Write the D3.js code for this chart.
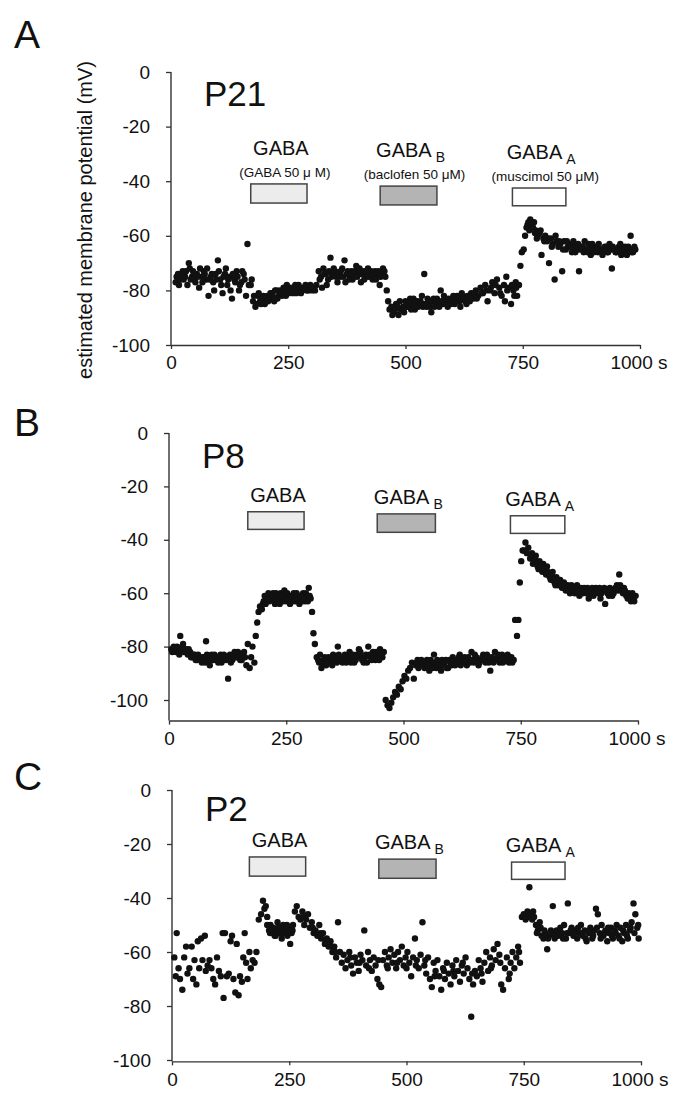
<!DOCTYPE html>
<html>
<head>
<meta charset="utf-8">
<script src="https://cdn.jsdelivr.net/npm/d3@7"></script>
<style>
  body { margin: 0; background: #fff; }
  svg text { font-family: "Liberation Sans", Arial, Helvetica, sans-serif; fill: #111; }
</style>
</head>
<body>
<div id="plot"></div>
<script>
// [time (s), estimated membrane potential (mV)]

const p21Data = [
  [10,-77],[15,-74],[20,-76],[25,-73],[30,-75],[35,-78],[38,-70],[40,-72],[45,-75],[50,-76],[55,-74],
  [60,-79],[65,-75],[70,-73],[75,-76],[80,-82],[85,-75],[90,-77],[95,-74],[100,-69],[105,-76],
  [110,-81],[115,-74],[120,-78],[125,-75],[130,-83],[135,-76],[140,-73],[145,-80],[150,-77],[155,-74],
  [160,-82],[163,-63],[166,-78],[170,-78],[172,-76],[175,-84],[180,-86],[185,-82],[190,-84],[195,-83],
  [200,-85],[205,-82],[210,-83],[215,-81],[220,-84],[225,-80],[230,-82],[235,-81],[240,-79],[245,-82],
  [250,-80],[255,-79],[260,-81],[265,-78],[270,-80],[275,-79],[280,-80],[285,-79],[290,-80],[295,-79],
  [300,-80],[305,-79],[310,-78],[315,-73],[320,-75],[322,-79],[325,-72],[330,-74],[332,-78],[335,-76],
  [340,-68],[345,-74],[350,-73],[355,-77],[360,-75],[365,-72],[370,-69],[375,-74],[380,-76],[385,-73],
  [390,-75],[395,-71],[400,-74],[405,-77],[410,-73],[415,-75],[420,-72],[425,-74],[430,-76],[435,-73],
  [440,-75],[445,-78],[450,-74],[455,-73],[460,-80],[463,-84],[466,-87],[470,-86],[475,-88],[480,-85],
  [485,-89],[490,-87],[495,-86],[500,-84],[505,-86],[510,-83],[515,-85],[520,-87],[525,-84],[530,-85],
  [535,-82],[540,-74],[545,-86],[550,-84],[555,-88],[560,-83],[565,-85],[570,-84],[575,-80],[580,-85],
  [585,-83],[590,-86],[595,-84],[600,-83],[605,-85],[610,-82],[615,-84],[620,-81],[625,-83],[630,-85],
  [635,-82],[640,-81],[645,-83],[650,-80],[655,-82],[660,-79],[665,-81],[670,-78],[675,-84],[680,-80],
  [685,-77],[690,-81],[695,-76],[700,-79],[705,-82],[710,-78],[712,-84],[715,-75],[720,-79],[725,-85],
  [730,-80],[735,-77],[738,-82],[742,-78],[745,-71],[748,-66],[752,-65],[755,-60],[758,-57],[762,-55],
  [766,-54],[770,-56],[774,-55],[778,-58],[782,-60],[786,-59],[790,-67],[794,-61],[798,-60],[802,-62],
  [806,-70],[810,-61],[814,-63],[818,-76],[822,-62],[826,-64],[830,-63],[834,-73],[838,-62],[842,-65],
  [846,-64],[850,-63],[855,-66],[860,-64],[865,-65],[870,-73],[875,-64],[880,-66],[885,-65],[890,-63],
  [895,-67],[900,-65],[905,-64],[910,-66],[915,-65],[920,-67],[925,-64],[930,-66],[935,-63],[940,-72],
  [945,-65],[950,-66],[955,-64],[960,-67],[965,-65],[970,-66],[975,-64],[980,-60],[985,-66],[990,-65],
  [12,-75],[17,-78],[22,-74],[27,-76],[32,-73],[42,-76],[47,-73],[52,-77],[57,-75],[62,-72],
  [67,-77],[72,-74],[77,-72],[82,-76],[87,-74],[92,-80],[97,-76],[102,-73],[107,-78],[112,-75],
  [117,-72],[122,-76],[127,-80],[132,-74],[137,-77],[142,-75],[147,-78],[152,-73],[157,-76],
  [177,-82],[182,-85],[187,-81],[192,-85],[197,-82],[202,-83],[207,-84],[212,-81],[217,-82],[222,-80],
  [227,-83],[232,-80],[237,-82],[242,-80],[247,-78],[252,-81],[257,-80],[262,-79],[267,-81],[272,-78],
  [277,-81],[282,-79],[287,-78],[292,-80],[297,-78],[302,-79],[307,-80],
  [317,-76],[327,-74],[337,-73],[342,-75],[347,-72],[352,-75],[357,-74],[362,-73],[367,-75],[372,-77],
  [377,-73],[382,-74],[387,-76],[392,-73],[397,-75],[402,-72],[407,-74],[412,-76],[417,-73],[422,-75],
  [427,-73],[432,-74],[437,-76],[442,-73],[447,-75],[452,-72],[457,-75],
  [472,-89],[478,-87],[483,-86],[488,-84],[497,-88],[502,-86],[507,-85],[512,-87],[517,-83],[522,-85],
  [527,-86],[532,-84],[537,-86],[542,-85],[547,-83],[552,-86],[557,-84],[562,-86],[567,-83],[572,-86],
  [577,-84],[582,-82],[587,-85],[592,-83],[597,-85],[602,-82],[607,-84],[612,-83],[617,-86],[622,-82],
  [627,-84],[632,-82],[637,-84],[642,-82],[647,-81],[652,-83],[662,-81],[672,-80],[682,-79],[692,-78],
  [702,-81],[717,-80],[727,-78],[732,-82],[736,-79],[760,-56],[764,-58],[768,-55],[772,-57],[776,-59],
  [780,-61],[788,-58],[796,-62],[804,-61],[812,-64],[820,-60],[828,-62],[836,-65],[844,-62],[852,-64],
  [858,-62],[862,-66],[868,-63],[872,-65],[878,-64],[882,-62],[888,-66],[892,-65],[898,-63],[902,-66],
  [908,-65],[912,-63],[918,-65],[922,-66],[928,-64],[932,-66],[938,-65],[942,-64],[948,-66],[952,-65],
  [958,-63],[962,-66],[968,-64],[972,-67],[978,-65],[982,-66],[988,-64]
];

const p8Data = [
  [5,-81],[10,-80],[15,-82],[20,-81],[24,-76],[28,-80],[32,-82],[36,-81],[40,-83],[45,-82],
  [50,-84],[55,-83],[60,-85],[65,-84],[70,-86],[75,-84],[79,-78],[83,-85],[87,-87],[91,-83],
  [95,-85],[100,-84],[105,-86],[110,-83],[115,-85],[120,-84],[126,-92],[130,-83],[135,-85],[140,-82],
  [145,-84],[150,-83],[155,-85],[160,-82],[165,-87],[168,-79],[172,-88],[175,-84],[178,-80],[182,-86],
  [185,-76],[188,-71],[191,-67],[194,-65],[198,-66],[202,-63],[206,-64],[210,-61],[214,-63],[218,-62],
  [222,-60],[226,-64],[230,-61],[234,-63],[238,-60],[242,-62],[246,-59],[250,-63],[254,-61],[258,-64],
  [262,-62],[266,-60],[270,-63],[274,-61],[278,-64],[282,-62],[286,-60],[290,-63],[294,-61],[298,-58],
  [302,-62],[305,-67],[308,-75],[311,-79],[315,-84],[320,-86],[325,-88],[330,-85],[335,-87],[340,-84],
  [345,-86],[350,-83],[355,-85],[360,-80],[365,-84],[370,-86],[375,-83],[380,-85],[385,-82],[390,-84],
  [395,-86],[400,-83],[405,-81],[410,-84],[415,-86],[420,-83],[425,-80],[430,-84],[435,-82],[440,-85],
  [445,-83],[450,-81],[455,-84],[462,-100],[466,-102],[470,-103],[474,-101],[478,-99],[482,-97],[486,-98],
  [490,-95],[494,-96],[498,-93],[502,-91],[506,-92],[510,-89],[514,-88],[518,-86],[522,-92],[526,-87],
  [530,-85],[535,-87],[540,-86],[545,-88],[550,-85],[555,-89],[560,-87],[565,-83],[570,-88],[575,-86],
  [580,-89],[585,-87],[590,-85],[595,-88],[600,-86],[605,-84],[610,-87],[615,-85],[620,-83],[625,-86],
  [630,-84],[635,-87],[640,-85],[645,-82],[650,-86],[655,-84],[660,-87],[665,-85],[670,-83],[675,-86],
  [680,-84],[685,-89],[690,-85],[695,-82],[700,-84],[705,-86],[710,-83],[715,-85],[720,-84],[725,-86],
  [730,-84],[735,-85],[738,-70],[742,-76],[745,-70],[748,-56],[751,-48],[754,-44],[757,-44],[760,-41],
  [763,-45],[766,-43],[770,-47],[774,-45],[778,-48],[782,-46],[786,-50],[790,-48],[794,-51],[798,-49],
  [802,-52],[806,-50],[810,-53],[814,-55],[818,-52],[822,-56],[826,-54],[830,-57],[834,-55],[838,-58],
  [842,-56],[846,-59],[850,-57],[855,-60],[860,-58],[865,-60],[870,-57],[875,-61],[880,-59],[885,-58],
  [890,-60],[895,-62],[900,-59],[905,-61],[910,-58],[915,-60],[920,-62],[925,-59],[930,-64],[935,-60],
  [940,-58],[945,-61],[950,-59],[955,-57],[960,-53],[965,-59],[970,-58],[975,-61],[980,-60],[985,-63],
  [990,-62],[995,-61],
  [7,-82],[12,-81],[17,-80],[22,-83],[26,-81],[30,-79],[34,-81],[38,-82],[42,-81],[47,-84],
  [52,-83],[57,-85],[62,-83],[67,-85],[72,-84],[77,-86],[81,-83],[85,-84],[89,-85],[93,-84],
  [97,-83],[102,-85],[107,-84],[112,-86],[117,-83],[122,-85],[128,-84],[132,-86],[137,-83],[142,-84],
  [147,-82],[152,-85],[157,-83],[162,-84],
  [200,-64],[204,-61],[208,-63],[212,-60],[216,-62],[220,-61],[224,-63],[228,-60],[232,-62],[236,-64],
  [240,-61],[244,-63],[248,-61],[252,-60],[256,-62],[260,-61],[264,-63],[268,-62],[272,-60],[276,-62],
  [280,-61],[284,-63],[288,-62],[292,-60],[296,-63],[300,-61],
  [318,-85],[322,-83],[328,-86],[332,-84],[338,-86],[342,-85],[348,-87],[352,-84],[358,-86],[362,-83],
  [368,-85],[372,-84],[378,-86],[382,-84],[388,-86],[392,-83],[398,-85],[402,-84],[408,-82],[412,-85],
  [418,-84],[422,-86],[428,-83],[432,-85],[438,-84],[442,-82],[448,-85],[452,-83],[458,-82],
  [528,-86],[532,-88],[538,-85],[542,-87],[548,-86],[552,-87],[558,-85],[562,-88],[568,-86],[572,-85],
  [578,-87],[582,-85],[588,-86],[592,-88],[598,-85],[602,-87],[608,-85],[612,-86],[618,-84],[622,-87],
  [628,-85],[632,-86],[638,-84],[642,-86],[648,-85],[652,-83],[658,-85],[662,-86],[668,-84],[672,-85],
  [678,-83],[682,-86],[688,-84],[692,-86],[698,-85],[702,-83],[708,-85],[712,-86],[718,-84],[722,-83],
  [728,-85],[732,-86],
  [772,-46],[776,-49],[780,-47],[784,-49],[788,-51],[792,-50],[796,-52],[800,-51],[804,-53],[808,-52],
  [812,-54],[816,-53],[820,-55],[824,-57],[828,-56],[832,-55],[836,-57],[840,-58],[844,-57],[848,-58],
  [852,-59],[858,-57],[862,-59],[868,-58],[872,-60],[878,-58],[882,-60],[888,-59],[892,-58],[898,-60],
  [902,-58],[908,-60],[912,-59],[918,-58],[922,-60],[928,-58],[932,-59],[938,-61],[942,-59],[948,-60],
  [952,-58],[958,-59],[962,-57],[968,-60],[972,-59],[978,-62],[982,-61],[988,-60],[992,-63]
];

const p2Data = [
  [5,-62],[8,-69],[10,-53],[14,-66],[17,-70],[22,-74],[26,-62],[30,-58],[33,-68],[37,-66],
  [42,-58],[45,-70],[48,-63],[52,-72],[55,-56],[58,-66],[62,-55],[65,-63],[70,-54],[72,-67],
  [76,-65],[80,-63],[84,-66],[88,-70],[92,-72],[96,-62],[100,-67],[104,-69],[108,-53],[110,-77],
  [113,-53],[117,-69],[121,-68],[125,-56],[128,-54],[131,-70],[135,-75],[138,-57],[142,-76],[145,-69],
  [149,-71],[152,-62],[155,-53],[158,-64],[161,-70],[165,-60],[168,-66],[172,-63],[176,-64],[180,-60],
  [185,-48],[190,-46],[194,-41],[197,-44],[200,-43],[203,-47],[207,-52],[210,-50],[213,-53],[216,-51],
  [219,-54],[222,-52],[225,-49],[228,-53],[231,-51],[234,-55],[237,-50],[240,-53],[243,-52],[246,-54],
  [249,-51],[252,-57],[255,-53],[258,-50],[262,-45],[266,-43],[270,-47],[274,-48],[278,-45],[282,-50],
  [286,-48],[290,-46],[294,-51],[298,-49],[302,-53],[306,-52],[310,-54],[314,-50],[318,-55],[322,-53],
  [326,-57],[330,-55],[334,-58],[338,-56],[342,-60],[346,-58],[350,-62],[354,-49],[358,-60],[362,-64],
  [366,-61],[370,-66],[374,-63],[378,-60],[382,-65],[386,-68],[390,-62],[394,-64],[398,-67],[402,-61],
  [406,-63],[410,-52],[414,-65],[418,-60],[422,-63],[426,-67],[430,-62],[434,-65],[438,-70],[442,-72],
  [446,-73],[450,-63],[454,-60],[458,-65],[462,-62],[466,-59],[470,-64],[474,-61],[478,-66],[482,-60],
  [486,-63],[490,-58],[494,-65],[498,-62],[502,-60],[506,-64],[510,-69],[514,-62],[518,-55],[522,-63],
  [526,-66],[530,-61],[534,-49],[538,-65],[542,-68],[546,-62],[550,-70],[554,-73],[558,-64],[562,-67],
  [566,-63],[570,-69],[574,-74],[578,-66],[582,-70],[586,-64],[590,-68],[594,-72],[598,-65],[602,-69],
  [606,-63],[610,-67],[614,-71],[618,-65],[622,-68],[626,-62],[630,-66],[634,-70],[638,-84],[642,-72],
  [646,-67],[650,-69],[654,-63],[658,-66],[662,-71],[666,-64],[670,-60],[674,-67],[678,-62],[682,-65],
  [686,-59],[690,-63],[694,-57],[698,-61],[702,-72],[706,-74],[710,-66],[714,-62],[718,-70],[722,-64],
  [726,-60],[730,-66],[734,-62],[738,-58],[742,-64],[746,-47],[750,-46],[754,-48],[758,-45],[762,-36],
  [765,-46],[768,-48],[772,-47],[776,-50],[780,-52],[784,-49],[788,-54],[792,-55],[796,-53],[800,-59],
  [804,-54],[808,-52],[812,-43],[816,-55],[820,-52],[824,-54],[828,-51],[832,-53],[836,-50],[840,-55],
  [844,-42],[848,-53],[852,-51],[856,-54],[860,-52],[864,-55],[868,-53],[872,-50],[876,-54],[880,-52],
  [884,-56],[888,-53],[892,-51],[896,-55],[900,-52],[904,-44],[908,-46],[912,-53],[916,-50],[920,-54],
  [924,-52],[928,-56],[932,-53],[936,-51],[940,-55],[944,-52],[948,-50],[952,-54],[956,-51],[960,-56],
  [964,-53],[968,-50],[972,-55],[976,-52],[980,-49],[984,-42],[988,-46],[992,-51],[995,-55],
  [203,-50],[209,-53],[215,-52],[221,-54],[227,-51],[233,-53],[239,-52],[245,-50],[251,-53],[257,-52],
  [280,-47],[300,-51],[316,-53],[328,-56],[340,-58],[348,-60],[380,-62],[400,-64],[420,-66],[440,-63],
  [460,-66],[480,-64],[500,-66],[520,-65],[540,-63],[560,-69],[580,-67],[600,-67],[620,-64],[640,-68],
  [660,-68],[680,-66],[700,-64],[720,-68],[740,-60],[760,-47],[770,-45],[778,-53],[786,-51],[794,-52],
  [802,-55],[810,-53],[818,-54],[826,-53],[834,-55],[842,-53],[850,-52],[858,-53],[866,-51],[874,-53],
  [882,-55],[890,-52],[898,-54],[906,-51],[914,-55],[922,-53],[930,-51],[938,-54],[946,-53],[954,-55],
  [962,-52],[970,-54],[978,-51],[986,-53],[994,-50]
];

const xTicks = [0, 250, 500, 750, 1000];
const yTicks = [0, -20, -40, -60, -80, -100];

const drugNames = ["GABA", "GABA", "GABA"];
const drugSubs = ["", "B", "A"];
const drugNotes = ["(GABA 50 \u03bc M)", "(baclofen 50  \u03bcM)", "(muscimol 50  \u03bcM)"];

// application bars: [start s, end s, top mV, bottom mV]
const p21Boxes = [[170, 290, -41, -48], [446, 567, -41.8, -48.7], [728, 842, -42.5, -49]];
const p8Boxes = [[168, 288, -29.5, -36.1], [444, 568, -30.3, -37.2], [728, 844, -31, -37.6]];
const p2Boxes = [[165, 285, -24.8, -31.9], [441, 563, -25.6, -32.7], [724, 838, -26.7, -33.1]];

const boxFills = ["#ececec", "#b4b4b4", "#ffffff"];

// page layout for the three panels
const panels = [
  { letter: "A", name: "P21", data: p21Data, boxes: p21Boxes, notes: true,
    x0: 171, top: 72, y100: 345, axisMin: -100, letterY: 48, nameY: 106, labelGap: 29 },
  { letter: "B", name: "P8", data: p8Data, boxes: p8Boxes, notes: false,
    x0: 169, top: 433, y100: 700, axisMin: -107.7, letterY: 436, nameY: 468, labelGap: 10 },
  { letter: "C", name: "P2", data: p2Data, boxes: p2Boxes, notes: false,
    x0: 172, top: 790, y100: 1060, axisMin: -100.5, letterY: 790, nameY: 821, labelGap: 10 }
];

const width = 673;
const height = 1099;
const plotWidth = 469;

const svg = d3.select("div#plot")
  .append("svg")
  .attr("width", width)
  .attr("height", height);

panels.forEach(p => drawPanel(p));

// y-axis title (only once, next to panel A)
svg.append("text")
  .attr("transform", "translate(92,220) rotate(-90)")
  .attr("text-anchor", "middle")
  .style("font-size", "20px")
  .text("estimated membrane potential (mV)");

function drawPanel(p) {
  const x = d3.scaleLinear().domain([0, 1000]).range([p.x0, p.x0 + plotWidth]);
  const y = d3.scaleLinear().domain([-100, 0]).range([p.y100, p.top]);
  const axisY = y(p.axisMin);

  const g = svg.append("g");

  // left axis
  const yAxis = g.append("g")
    .attr("transform", `translate(${p.x0},0)`)
    .call(d3.axisLeft(y).tickValues(yTicks).tickSizeInner(5).tickSizeOuter(0)
      .tickPadding(16).tickFormat(d => String(d)));
  yAxis.select(".domain").remove();
  yAxis.selectAll(".tick line").attr("stroke", "#333").attr("stroke-width", 1.3);
  yAxis.selectAll("text").style("font-size", "19px").attr("fill", "#111");

  g.append("line")
    .attr("x1", p.x0).attr("x2", p.x0)
    .attr("y1", y(0)).attr("y2", axisY)
    .attr("stroke", "#333").attr("stroke-width", 1.4);

  // bottom axis
  const xAxis = g.append("g")
    .attr("transform", `translate(0,${axisY})`)
    .call(d3.axisBottom(x).tickValues(xTicks).tickSizeInner(4).tickSizeOuter(0)
      .tickPadding(7).tickFormat(d => d === 1000 ? "1000 s" : String(d)));
  xAxis.select(".domain").attr("stroke", "#333").attr("stroke-width", 1.4);
  xAxis.selectAll(".tick line").attr("stroke", "#333").attr("stroke-width", 1.3);
  xAxis.selectAll("text").style("font-size", "19px").attr("fill", "#111");

  // "1000 s": the number sits a little left of its tick, unit after it
  xAxis.selectAll(".tick text").filter(d => d === 1000)
    .attr("text-anchor", "end")
    .attr("x", 27);

  // panel letter and age
  svg.append("text")
    .attr("x", 14).attr("y", p.letterY)
    .style("font-size", "39px")
    .text(p.letter);

  svg.append("text")
    .attr("x", p.x0 + 33).attr("y", p.nameY)
    .style("font-size", "35px")
    .text(p.name);

  // drug application bars
  g.selectAll(".bar")
    .data(p.boxes)
    .enter().append("rect")
    .attr("class", "bar")
    .attr("x", d => x(d[0]))
    .attr("width", d => x(d[1]) - x(d[0]))
    .attr("y", d => y(d[2]))
    .attr("height", d => y(d[3]) - y(d[2]))
    .attr("fill", (d, i) => boxFills[i])
    .attr("stroke", "#444")
    .attr("stroke-width", 1.5);

  p.boxes.forEach((b, i) => {
    const cx = x((b[0] + b[1]) / 2);
    const t = g.append("text")
      .attr("x", cx + 2)
      .attr("y", y(b[2]) - p.labelGap)
      .attr("text-anchor", "middle")
      .style("font-size", "20px")
      .text(drugNames[i]);
    if (drugSubs[i]) {
      t.append("tspan")
        .attr("dx", 4).attr("dy", 5)
        .style("font-size", "14px")
        .text(drugSubs[i]);
    }
    if (p.notes) {
      g.append("text")
        .attr("x", cx + 6)
        .attr("y", y(b[2]) - 7)
        .attr("text-anchor", "middle")
        .style("font-size", "13.5px")
        .text(drugNotes[i]);
    }
  });

  // data points
  g.selectAll(".dot")
    .data(p.data)
    .enter().append("circle")
    .attr("class", "dot")
    .attr("cx", d => x(d[0]))
    .attr("cy", d => y(d[1]))
    .attr("r", 3.2)
    .attr("fill", "#111");
}
</script>
</body>
</html>
